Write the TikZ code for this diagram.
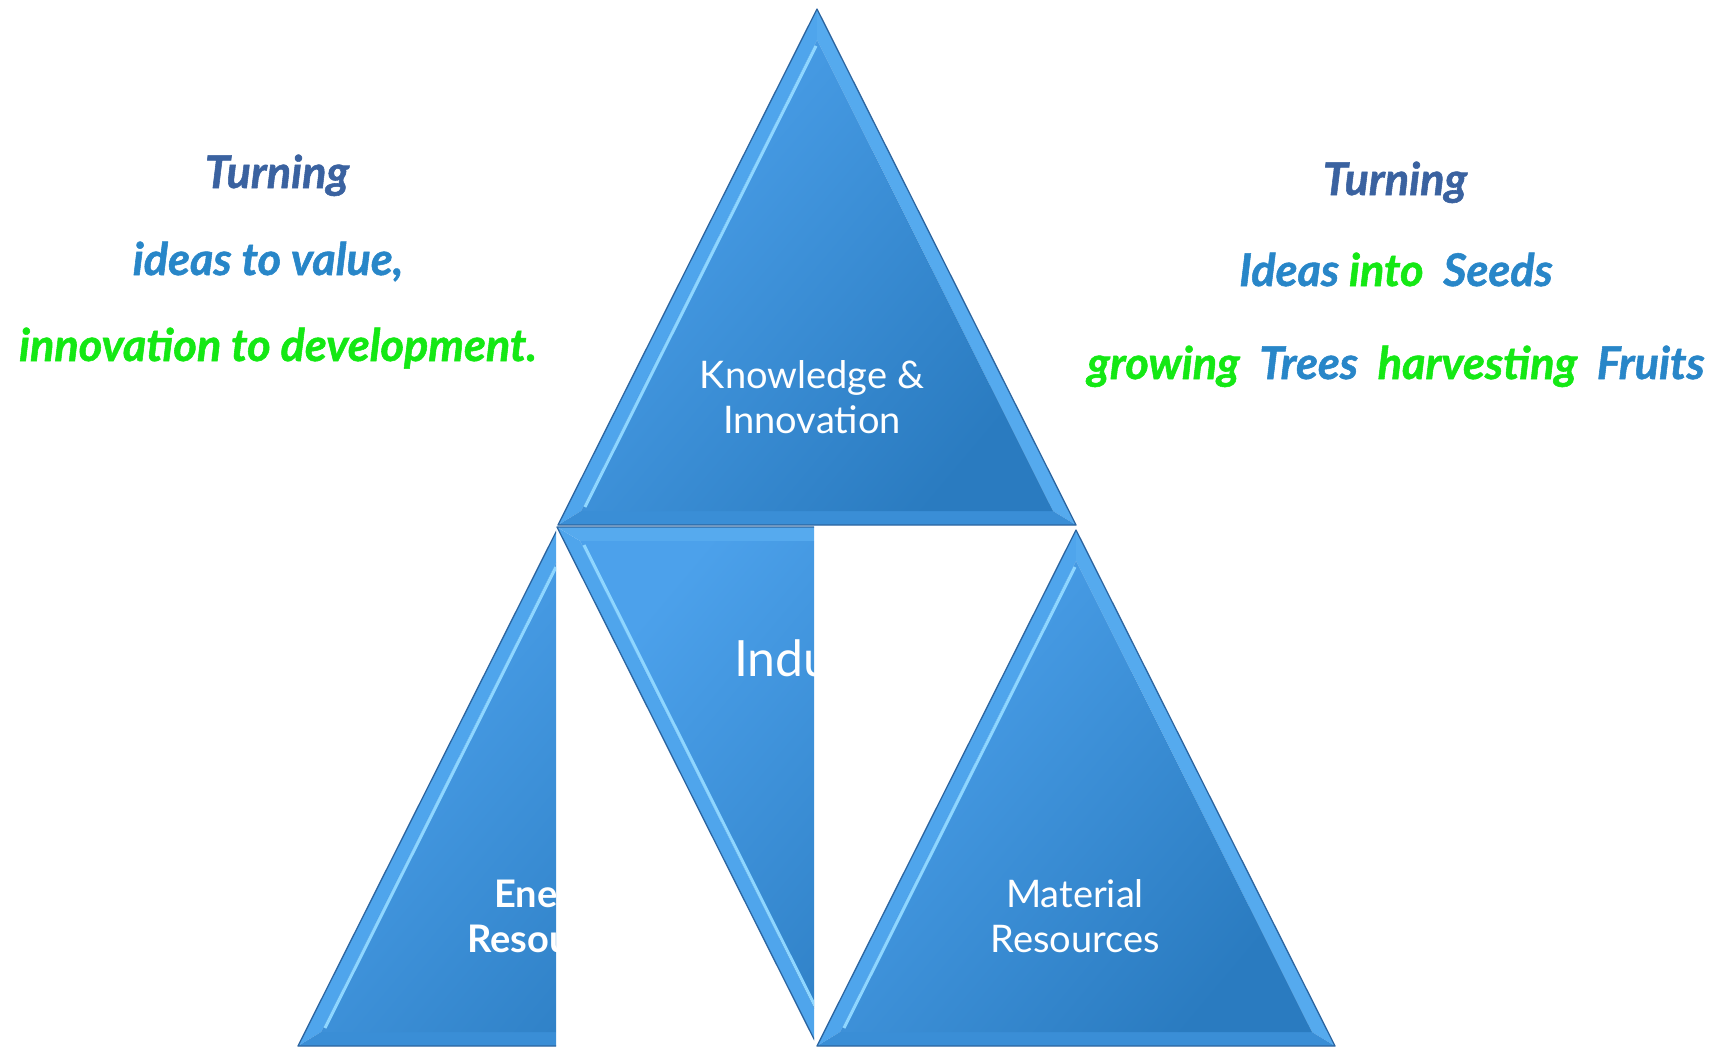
\documentclass[tikz,border=0pt]{standalone}
\usepackage{fontspec}
\newfontfamily\brushf{Lato}[BoldItalicFeatures={FakeBold=1.2}]
\newfontfamily\labf{Lato}
\definecolor{tdark}{HTML}{3A62A0}
\definecolor{tblue}{HTML}{2886C8}
\definecolor{tgreen}{HTML}{14E814}
\definecolor{triL}{HTML}{4CA1EB}
\definecolor{triD}{HTML}{2A7BC0}
\definecolor{bevL}{HTML}{4FA5EC}
\definecolor{bevHi}{HTML}{8ED6FF}
\definecolor{bevR}{HTML}{55AAEE}
\definecolor{bevB}{HTML}{3A8ED6}
\definecolor{bevT}{HTML}{56AAEE}
\definecolor{edgec}{HTML}{2C65A0}
\tikzset{
  uptri/.pic={
    \fill[bevL] (0,0) -- (-259,516) -- (-236,502) -- (0,31) -- cycle;
    \fill[bevR] (0,0) -- (0,31) -- (236,502) -- (259,516) -- cycle;
    \fill[bevB] (-259,516) -- (259,516) -- (236,502) -- (-236,502) -- cycle;
    \shade[top color=triL, bottom color=triD, shading angle=50] (0,31) -- (-236,502) -- (236,502) -- cycle;
    \draw[bevHi, line width=3pt] (-232,498) -- (-1,37);
    \draw[edgec, line width=1.3pt, line join=round] (0,0) -- (-259,516) -- (259,516) -- cycle;
  },
  downtri/.pic={
    \fill[bevL] (0,0) -- (-259,-516) -- (-236,-502) -- (0,-31) -- cycle;
    \fill[bevT] (-259,-516) -- (259,-516) -- (236,-502) -- (-236,-502) -- cycle;
    \fill[bevB] (0,0) -- (0,-31) -- (236,-502) -- (259,-516) -- cycle;
    \shade[top color=triL, bottom color=triD, shading angle=50] (0,-31) -- (-236,-502) -- (236,-502) -- cycle;
    \draw[bevHi, line width=3pt] (-232,-498) -- (-1,-37);
    \draw[edgec, line width=1.3pt, line join=round] (0,0) -- (-259,-516) -- (259,-516) -- cycle;
  },
  lab/.style={text=white, align=center, font=\labf\fontsize{38}{45}\selectfont, inner sep=0pt},
  brush/.style={font=\brushf\bfseries\itshape\fontsize{45}{52}\selectfont, inner sep=0pt, anchor=base},
}
\begin{document}
\begin{tikzpicture}[x=1pt, y=-1pt]
\useasboundingbox (0,0) rectangle (1714,1047);
% top triangle
\pic at (817,9) {uptri};
\node[lab, anchor=base] (know) at (812,388) {Knowledge \&};
\node[lab, anchor=base] (innov) at (812,433) {Innovation};
% industry (inverted), cut at right
\begin{scope}
  \clip (0,0) rectangle (814,1047);
  \pic at (816,1043) {downtri};
  \node[lab, anchor=base west, font=\labf\fontsize{50}{56}\selectfont] (indu) at (734,676) {Industry};
\end{scope}
% energy triangle, cut at right
\begin{scope}
  \clip (0,0) rectangle (556,1047);
  \pic at (557,530) {uptri};
  \node[lab, anchor=base, font=\labf\bfseries\fontsize{38}{45}\selectfont] (ene) at (553,907) {Energy};
  \node[lab, anchor=base, font=\labf\bfseries\fontsize{38}{45}\selectfont] (reso) at (553,952) {Resources};
\end{scope}
% material triangle
\pic at (1076,530) {uptri};
\node[lab, anchor=base] (mat) at (1075,907) {Material};
\node[lab, anchor=base] (mres) at (1075,952) {Resources};
% left text
\node[brush, text=tdark] (lt1) at (277,188) {Turning};
\node[brush, text=tblue] (lt2) at (268,275) {ideas to value,};
\node[brush, text=tgreen] (lt3) at (278,361) {innovation to development.};
% right text
\node[brush, text=tdark] (rt1) at (1395,195) {Turning};
\node[brush] (rt2) at (1396,286) {\textcolor{tblue}{Ideas} \textcolor{tgreen}{into}\ \ \textcolor{tblue}{Seeds}};
\node[brush] (rt3) at (1396,379) {\textcolor{tgreen}{growing}\ \ \textcolor{tblue}{Trees}\ \ \textcolor{tgreen}{harvesting}\ \ \textcolor{tblue}{Fruits}};
\end{tikzpicture}
\end{document}
